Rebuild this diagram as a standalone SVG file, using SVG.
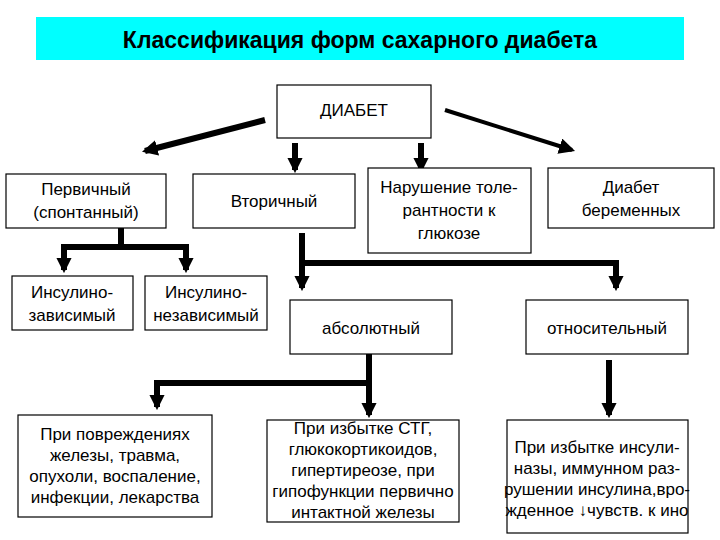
<svg xmlns="http://www.w3.org/2000/svg" width="720" height="540" viewBox="0 0 720 540">
<style>
.b{fill:#fff;stroke:#000;stroke-width:1.2}
.t{font-family:"Liberation Sans",Arial,sans-serif;font-size:17px;text-anchor:middle;fill:#000}
.c{stroke:#000;stroke-width:6;fill:none}
</style>
<defs>
<marker id="ah" viewBox="0 0 10 10" refX="8" refY="5" markerWidth="2.6" markerHeight="2.6" orient="auto" markerUnits="strokeWidth"><path d="M0,0L10,5L0,10z" fill="#000"/></marker>
<marker id="ah2" viewBox="0 0 10 10" refX="8" refY="5" markerWidth="4" markerHeight="4" orient="auto" markerUnits="strokeWidth"><path d="M0,0L10,5L0,10z" fill="#000"/></marker>
</defs>
<rect width="720" height="540" fill="#fff"/>
<g id="title"><rect x="36" y="17" width="648" height="43" fill="#00ffff"/><text x="360" y="48" style="font-family:'Liberation Sans',Arial,sans-serif;font-size:23px;font-weight:bold;text-anchor:middle">Классификация форм сахарного диабета</text></g>
<g id="connectors">
<path class="c" d="M265,120L145,151" marker-end="url(#ah)"/>
<path class="c" d="M445,110L572,150" style="stroke-width:4" marker-end="url(#ah2)"/>
<path class="c" d="M295,143V170" marker-end="url(#ah)"/>
<path class="c" d="M421,143V170" marker-end="url(#ah)"/>
<path class="c" d="M121,228V247H186V270" marker-end="url(#ah)"/>
<path class="c" d="M121,247H64V270" marker-end="url(#ah)"/>
<path class="c" d="M302,233V288" marker-end="url(#ah)"/>
<path class="c" d="M302,263H616V288" marker-end="url(#ah)"/>
<path class="c" d="M369,354V415" marker-end="url(#ah)"/>
<path class="c" d="M369,383H157V407" marker-end="url(#ah)"/>
<path class="c" d="M609,360V415" marker-end="url(#ah)"/>
</g>
<g id="n-diabet"><rect class="b" x="277" y="85" width="154" height="53"/><text class="t" x="354" y="116">ДИАБЕТ</text></g>
<g id="n-perv"><rect class="b" x="6" y="174" width="160" height="54"/><text class="t" x="86" y="195">Первичный</text><text class="t" x="86" y="218">(спонтанный)</text></g>
<g id="n-vtor"><rect class="b" x="193" y="174" width="162" height="54"/><text class="t" x="274" y="207">Вторичный</text></g>
<g id="n-nar"><rect class="b" x="368" y="168" width="163" height="85"/><text class="t" x="449" y="193">Нарушение толе-</text><text class="t" x="449" y="216">рантности к</text><text class="t" x="449" y="239">глюкозе</text></g>
<g id="n-ber"><rect class="b" x="548" y="168" width="166" height="60"/><text class="t" x="631" y="193">Диабет</text><text class="t" x="631" y="216">беременных</text></g>
<g id="n-iz"><rect class="b" x="12" y="276" width="121" height="54"/><text class="t" x="72" y="298">Инсулино-</text><text class="t" x="72" y="321">зависимый</text></g>
<g id="n-inz"><rect class="b" x="145" y="276" width="122" height="54"/><text class="t" x="206" y="298">Инсулино-</text><text class="t" x="206" y="321">независимый</text></g>
<g id="n-abs"><rect class="b" x="290" y="300" width="162" height="54"/><text class="t" x="371" y="334">абсолютный</text></g>
<g id="n-otn"><rect class="b" x="526" y="300" width="162" height="54"/><text class="t" x="607" y="334">относительный</text></g>
<g id="n-b1"><rect class="b" x="18" y="415" width="194" height="102"/><text class="t" x="115" y="440">При повреждениях</text><text class="t" x="115" y="461">железы, травма,</text><text class="t" x="115" y="482">опухоли, воспаление,</text><text class="t" x="115" y="503">инфекции, лекарства</text></g>
<g id="n-b2"><rect class="b" x="267" y="420" width="192" height="102"/><text class="t" x="363" y="434">При избытке СТГ,</text><text class="t" x="363" y="455">глюкокортикоидов,</text><text class="t" x="363" y="476">гипертиреозе, при</text><text class="t" x="363" y="497">гипофункции первично</text><text class="t" x="363" y="518">интактной железы</text></g>
<g id="n-b3"><rect class="b" x="507" y="420" width="181" height="113"/><text class="t" x="597" y="453">При избытке инсули-</text><text class="t" x="597" y="474">назы, иммунном раз-</text><text class="t" x="597" y="495">рушении инсулина,вро-</text><text class="t" x="597" y="516">жденное ↓чувств. к ино</text></g>
</svg>
